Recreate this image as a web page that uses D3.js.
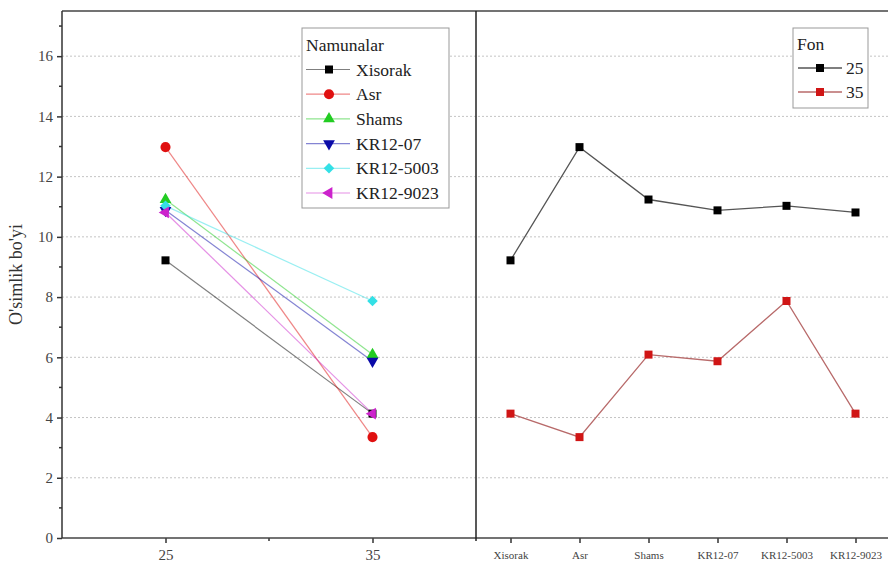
<!DOCTYPE html>
<html><head><meta charset="utf-8">
<script src="https://cdn.jsdelivr.net/npm/d3@7/dist/d3.min.js"></script>
<style>body{margin:0;background:#fff}svg{display:block}text{font-family:"Liberation Serif","Times New Roman",serif}</style>
</head><body><svg id="c" width="888" height="565"></svg>
<script>
const samples = ["Xisorak","Asr","Shams","KR12-07","KR12-5003","KR12-9023"];
const temps = [25, 35];
const v25 = [9.22, 12.98, 11.24, 10.88, 11.03, 10.81];
const v35 = [4.13, 3.35, 6.09, 5.87, 7.87, 4.13];
const sampleColors = ["#000000","#e01010","#22cc22","#0a0aa8","#33e0e6","#cc22cc"];
const sampleShapes = ["square","circle","triangle","triangleDown","diamond","triangleLeft"];
const fonColors = ["#000000","#d01515"];
const fonLineColors = ["#555555","#b86a6a"];
const yTicks = [0,2,4,6,8,10,12,14,16];
const yLabel = "O'simlik bo'yi";

const svg = d3.select("#c");
const plotTop = 11, plotBottom = 538, leftX = 62, divX = 476, rightX = 890;
const y = d3.scaleLinear().domain([0, 17.5]).range([plotBottom, plotTop]);
const xL = d3.scaleLinear().domain([20, 40]).range([leftX, divX]);
const xR = d3.scaleLinear().domain([0.5, 6.5]).range([divX, rightX]);

// gridlines
svg.append("g").selectAll("line").data(yTicks.filter(d => d > 0)).join("line")
  .attr("x1", leftX).attr("x2", 888).attr("y1", d => y(d)).attr("y2", d => y(d))
  .attr("stroke", "#c4c4c4").attr("stroke-width", 1).attr("stroke-dasharray", "2,2");

// Y axis
const yAx = svg.append("g").attr("transform", `translate(${leftX},0)`)
  .call(d3.axisLeft(y).tickValues(yTicks).tickSize(5).tickPadding(4).tickFormat(d3.format("d")));
yAx.select(".domain").remove();
yAx.selectAll("line").attr("stroke", "#333").attr("stroke-width", 1.5);
yAx.selectAll("text").attr("font-size", 15).attr("fill", "#444")
  .attr("font-family", '"Liberation Serif",serif');
// minor y ticks
svg.append("g").selectAll("line").data(d3.range(1, 18, 2)).join("line")
  .attr("x1", leftX - 3).attr("x2", leftX).attr("y1", d => y(d)).attr("y2", d => y(d))
  .attr("stroke", "#333").attr("stroke-width", 1.5);

// X axis left
const xAxL = svg.append("g").attr("transform", `translate(0,${plotBottom})`)
  .call(d3.axisBottom(xL).tickValues(temps).tickSize(5).tickPadding(6).tickFormat(d3.format("d")));
xAxL.select(".domain").remove();
xAxL.selectAll("line").attr("stroke", "#333").attr("stroke-width", 1.5);
xAxL.selectAll("text").attr("font-size", 15).attr("fill", "#444")
  .attr("font-family", '"Liberation Serif",serif');
svg.append("line").attr("x1", xL(30)).attr("x2", xL(30)).attr("y1", plotBottom).attr("y2", plotBottom + 3)
  .attr("stroke", "#333").attr("stroke-width", 1.5);

// X axis right
const xAxR = svg.append("g").attr("transform", `translate(0,${plotBottom})`)
  .call(d3.axisBottom(xR).tickValues(d3.range(1, 7)).tickSize(5).tickPadding(8).tickFormat((d, i) => samples[i]));
xAxR.select(".domain").remove();
xAxR.selectAll("line").attr("stroke", "#333").attr("stroke-width", 1.5);
xAxR.selectAll("text").attr("font-size", 11).attr("fill", "#444")
  .attr("font-family", '"Liberation Serif",serif');

// frame lines
svg.append("line").attr("x1", leftX).attr("x2", 888).attr("y1", plotTop).attr("y2", plotTop).attr("stroke", "#444").attr("stroke-width", 1.5);
svg.append("line").attr("x1", leftX).attr("x2", 888).attr("y1", plotBottom).attr("y2", plotBottom).attr("stroke", "#444").attr("stroke-width", 1.5);
svg.append("line").attr("x1", leftX).attr("x2", leftX).attr("y1", plotTop).attr("y2", plotBottom).attr("stroke", "#333").attr("stroke-width", 1.5);
svg.append("line").attr("x1", divX).attr("x2", divX).attr("y1", plotTop).attr("y2", plotBottom + 3).attr("stroke", "#222").attr("stroke-width", 1.5);

// y label
svg.append("text").attr("transform", `translate(22,${(plotTop + plotBottom) / 2}) rotate(-90)`)
  .attr("text-anchor", "middle").attr("font-size", 18).attr("fill", "#333").text(yLabel);

const symMap = {square: d3.symbolSquare, circle: d3.symbolCircle, triangle: d3.symbolTriangle,
  triangleDown: d3.symbolTriangle, diamond: d3.symbolSquare, triangleLeft: d3.symbolTriangle};
const rotMap = {triangleDown: 180, triangleLeft: -90, diamond: 45};
const sizeMap = {square: 64, circle: 80, triangle: 60, triangleDown: 60, diamond: 56, triangleLeft: 60};
function marker(g, shape, color, cx, cy, scale = 1) {
  g.append("path").attr("d", d3.symbol().type(symMap[shape]).size(sizeMap[shape] * scale)())
    .attr("transform", `translate(${cx},${cy}) rotate(${rotMap[shape] || 0})`)
    .attr("fill", color);
}

// left panel lines + markers
const lp = svg.append("g");
samples.forEach((s, i) => {
  lp.append("line").attr("x1", xL(25)).attr("y1", y(v25[i])).attr("x2", xL(35)).attr("y2", y(v35[i]))
    .attr("stroke", sampleColors[i]).attr("stroke-opacity", 0.5).attr("stroke-width", 1.2);
});
samples.forEach((s, i) => {
  marker(lp, sampleShapes[i], sampleColors[i], xL(25), y(v25[i]));
  marker(lp, sampleShapes[i], sampleColors[i], xL(35), y(v35[i]));
});

// right panel
const rp = svg.append("g");
[v25, v35].forEach((vals, k) => {
  rp.append("path").datum(vals)
    .attr("d", d3.line().x((d, i) => xR(i + 1)).y(d => y(d)))
    .attr("fill", "none").attr("stroke", fonLineColors[k]).attr("stroke-width", 1.3);
  vals.forEach((d, i) => marker(rp, "square", fonColors[k], xR(i + 1), y(d)));
});

// left legend
const lg = svg.append("g");
lg.append("rect").attr("x", 302).attr("y", 28).attr("width", 147).attr("height", 180)
  .attr("fill", "#fff").attr("stroke", "#999").attr("stroke-width", 1);
lg.append("text").attr("x", 306).attr("y", 45).attr("dy", "0.35em").attr("font-size", 17.5).attr("fill", "#222").text("Namunalar");
samples.forEach((s, i) => {
  const ry = 69.5 + i * 24.7;
  lg.append("line").attr("x1", 306).attr("x2", 350).attr("y1", ry).attr("y2", ry)
    .attr("stroke", sampleColors[i]).attr("stroke-opacity", 0.5).attr("stroke-width", 1.2);
  marker(lg, sampleShapes[i], sampleColors[i], 329, ry);
  lg.append("text").attr("x", 356).attr("y", ry).attr("dy", "0.35em").attr("font-size", 17.5).attr("fill", "#222").text(s);
});

// right legend
const rg = svg.append("g");
rg.append("rect").attr("x", 793).attr("y", 28).attr("width", 75).attr("height", 80)
  .attr("fill", "#fff").attr("stroke", "#999").attr("stroke-width", 1);
rg.append("text").attr("x", 797).attr("y", 44).attr("dy", "0.35em").attr("font-size", 17.5).attr("fill", "#222").text("Fon");
temps.forEach((t, k) => {
  const ry = 68 + k * 24;
  rg.append("line").attr("x1", 798).attr("x2", 842).attr("y1", ry).attr("y2", ry)
    .attr("stroke", fonLineColors[k]).attr("stroke-width", 1.3);
  marker(rg, "square", fonColors[k], 820, ry);
  rg.append("text").attr("x", 846).attr("y", ry).attr("dy", "0.35em").attr("font-size", 17.5).attr("fill", "#222").text(t);
});
</script></body></html>
